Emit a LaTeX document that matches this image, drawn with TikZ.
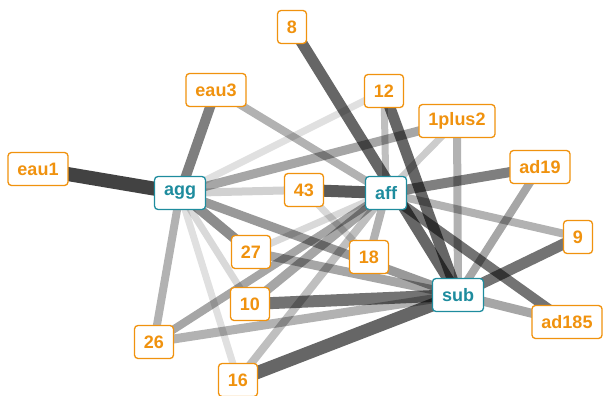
\documentclass[tikz,border=0pt]{standalone}
\usepackage{fontspec}
\setmainfont{Liberation Sans}
\usetikzlibrary{backgrounds}
\definecolor{org}{HTML}{F0920E}
\definecolor{teal}{HTML}{1E8C9E}
\begin{document}
\begin{tikzpicture}[x=1pt,y=-1pt,
  nd/.style={draw=org,text=org,fill=white,line width=1.3pt,rounded corners=3.5pt,
    font=\fontsize{18}{20}\selectfont\bfseries,inner xsep=9.5pt,minimum height=33pt,inner ysep=0pt},
  hub/.style={nd,draw=teal,text=teal},
]
\useasboundingbox (0,0) rectangle (606,396);
\node[nd] (eau1) at (38,169) {eau1};
\node[hub] (agg) at (180,193) {agg};
\node[nd] (eau3) at (216,90) {eau3};
\node[nd] (n8) at (292,27) {8};
\node[nd] (n12) at (384,91) {12};
\node[nd] (p12) at (457,121) {1plus2};
\node[nd] (ad19) at (540,167) {ad19};
\node[nd] (n43) at (304,190) {43};
\node[hub] (aff) at (386,193) {aff};
\node[nd] (n9) at (578,237) {9};
\node[nd] (n27) at (251,252) {27};
\node[nd] (n18) at (369,257) {18};
\node[hub] (sub) at (458,295) {sub};
\node[nd] (ad185) at (567,322) {ad185};
\node[nd] (n10) at (250,304) {10};
\node[nd] (n26) at (154,342) {26};
\node[nd] (n16) at (238,380) {16};
\begin{scope}[on background layer]
\newcommand{\ed}[4]{\draw[line width=#3pt,line cap=butt,draw=black,draw opacity=#4] (#1.center) -- (#2.center);}
\ed{agg}{eau1}{14}{.74}
\ed{agg}{eau3}{10}{.5}
\ed{agg}{n12}{7}{.12}
\ed{agg}{p12}{9}{.35}
\ed{agg}{n43}{8}{.18}
\ed{agg}{n27}{10}{.45}
\ed{agg}{sub}{9}{.4}
\ed{agg}{n26}{8}{.3}
\ed{agg}{n16}{7}{.12}
\ed{agg}{n10}{7}{.15}
\ed{eau3}{aff}{8}{.3}
\ed{n43}{aff}{12}{.65}
\ed{n8}{sub}{11}{.6}
\ed{n12}{sub}{11}{.6}
\ed{n12}{aff}{7}{.25}
\ed{p12}{aff}{7}{.2}
\ed{p12}{sub}{8}{.3}
\ed{ad19}{aff}{10}{.5}
\ed{ad19}{sub}{8}{.35}
\ed{n9}{aff}{8}{.3}
\ed{n9}{sub}{11}{.55}
\ed{ad185}{aff}{10}{.55}
\ed{ad185}{sub}{9}{.35}
\ed{aff}{n18}{8}{.3}
\ed{n43}{n18}{7}{.15}
\ed{aff}{n27}{7}{.15}
\ed{aff}{n10}{9}{.35}
\ed{aff}{n26}{8}{.35}
\ed{aff}{n16}{8}{.25}
\ed{n27}{sub}{9}{.35}
\ed{n10}{sub}{12}{.55}
\ed{n26}{sub}{9}{.3}
\ed{n16}{sub}{13}{.6}
\end{scope}
\end{tikzpicture}
\end{document}
